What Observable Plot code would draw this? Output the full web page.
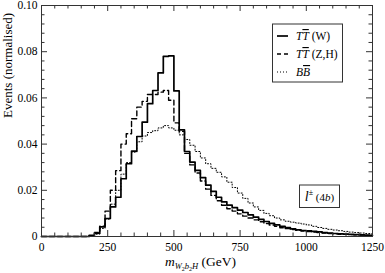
<!DOCTYPE html>
<html><head><meta charset="utf-8">
<script src="https://cdn.jsdelivr.net/npm/d3@7"></script>
<script src="https://cdn.jsdelivr.net/npm/@observablehq/plot@0.6"></script>
<style>
body{margin:0;background:#fff;}
#chart{width:385px;height:273px;}
svg{font-family:"Liberation Serif","DejaVu Serif",serif;}
</style></head><body><div id="chart"></div>
<script>
// bin lower edges (GeV), 20 GeV bins
const binLow = [160,180,200,220,240,260,280,300,320,340,360,380,400,420,440,460,480,500,520,540,
  560,580,600,620,640,660,680,700,720,740,760,780,800,820,840,860,880,900,920,940,
  960,980,1000,1020,1040,1060,1080,1100,1120,1140,1160,1180,1200,1220,1240];
const ttW = [0,0.0005,0.0014,0.0042,0.0078,0.0128,0.0170,0.0250,0.0315,0.0370,
  0.0433,0.0495,0.0575,0.0632,0.0708,0.0780,0.0782,0.0630,0.0462,0.0368,
  0.0322,0.0286,0.0255,0.0222,0.0195,0.0170,0.0150,0.0136,0.0125,0.0114,
  0.0104,0.0094,0.0084,0.0074,0.0065,0.0057,0.0050,0.0044,0.0038,0.0033,
  0.0029,0.0026,0.0024,0.0022,0.0020,0.0017,0.0015,0.0013,0.0011,0.0010,
  0.0009,0.0008,0.0007,0.0006,0.0005];
const ttZH = [0,0.0004,0.0018,0.0045,0.0110,0.0200,0.0285,0.0400,0.0445,0.0510,
  0.0560,0.0585,0.0615,0.0615,0.0625,0.0632,0.0590,0.0492,0.0455,0.0360,
  0.0310,0.0275,0.0240,0.0205,0.0178,0.0155,0.0135,0.0120,0.0110,0.0098,
  0.0088,0.0080,0.0072,0.0064,0.0056,0.0050,0.0044,0.0038,0.0034,0.0030,
  0.0027,0.0024,0.0021,0.0019,0.0017,0.0015,0.0013,0.0012,0.0010,0.0009,
  0.0008,0.0007,0.0006,0.0005,0.0004];
const bbBar = [0,0.0003,0.0010,0.0035,0.0075,0.0140,0.0200,0.0270,0.0320,0.0365,
  0.0410,0.0435,0.0450,0.0458,0.0470,0.0480,0.0470,0.0460,0.0440,0.0420,
  0.0395,0.0368,0.0340,0.0315,0.0295,0.0278,0.0258,0.0235,0.0212,0.0188,
  0.0165,0.0145,0.0128,0.0113,0.0100,0.0090,0.0080,0.0072,0.0066,0.0062,
  0.0058,0.0054,0.0050,0.0044,0.0039,0.0035,0.0031,0.0028,0.0025,0.0022,
  0.0019,0.0017,0.0015,0.0013,0.0011];
const xTicks = [0,250,500,750,1000,1250];
const xMinor = [50,100,150,200,300,350,400,450,550,600,650,700,800,850,900,950,1050,1100,1150,1200];
const yTicks = [0,0.02,0.04,0.06,0.08,0.10];
const yMinor = [0.004,0.008,0.012,0.016,0.024,0.028,0.032,0.036,0.044,0.048,0.052,0.056,0.064,0.068,0.072,0.076,0.084,0.088,0.092,0.096];
const xDomain = [0,1250];
const yDomain = [0,0.10];
const yTitle = "Events (normalised)";

function steps(vals){
  const pts=[{m:xDomain[0],v:0}];
  binLow.forEach((b,i)=>pts.push({m:b,v:vals[i]}));
  pts.push({m:xDomain[1],v:vals[vals.length-1]});
  return pts;
}

const W=385,H=273,mt=5,mr=13,mb=37,ml=41;
const fh = H-mt-mb, fw = W-ml-mr;
const major=6, minor=3.5;

const plot = Plot.plot({
  width:W,height:H,marginTop:mt,marginRight:mr,marginBottom:mb,marginLeft:ml,
  x:{domain:xDomain}, y:{domain:yDomain},
  style:{fontFamily:'"Liberation Serif", serif',fontSize:"11.5px",background:"white",color:"black"},
  marks:[
    Plot.line(steps(bbBar),{x:"m",y:"v",curve:"step-after",stroke:"black",strokeWidth:1,strokeDasharray:"1,2"}),
    Plot.line(steps(ttZH),{x:"m",y:"v",curve:"step-after",stroke:"black",strokeWidth:1.4,strokeDasharray:"5,3"}),
    Plot.line(steps(ttW),{x:"m",y:"v",curve:"step-after",stroke:"black",strokeWidth:1.7}),
    Plot.frame({stroke:"#333",strokeWidth:1}),
    Plot.tickX(xTicks,{x:d=>d,insetTop:fh-major,stroke:"#333"}),
    Plot.tickX(xTicks,{x:d=>d,insetBottom:fh-major,stroke:"#333"}),
    Plot.tickX(xMinor,{x:d=>d,insetTop:fh-minor,stroke:"#333"}),
    Plot.tickX(xMinor,{x:d=>d,insetBottom:fh-minor,stroke:"#333"}),
    Plot.tickY(yTicks,{y:d=>d,insetRight:fw-major,stroke:"#333"}),
    Plot.tickY(yTicks,{y:d=>d,insetLeft:fw-major,stroke:"#333"}),
    Plot.tickY(yMinor,{y:d=>d,insetRight:fw-minor,stroke:"#333"}),
    Plot.tickY(yMinor,{y:d=>d,insetLeft:fw-minor,stroke:"#333"}),
    Plot.axisX({ticks:xTicks,tickSize:0,tickPadding:6,tickFormat:d=>String(d),label:null}),
    Plot.axisY({ticks:yTicks,tickSize:0,tickPadding:4,tickFormat:d=>d===0?"0":d.toFixed(2),label:null}),
    Plot.text([yTitle],{frameAnchor:"left",rotate:-90,dx:-34,dy:-3,fontSize:13})
  ]
});
document.getElementById("chart").appendChild(plot);
const svg = d3.select(plot);

// x-axis title with subscripts
const xt = svg.append("text").attr("x",165).attr("y",266).attr("font-size",13.5)
  .attr("text-anchor","start").attr("fill","black");
xt.append("tspan").attr("font-style","italic").text("m");
xt.append("tspan").attr("font-style","italic").attr("font-size",8.5).attr("dy",3).text("W");
xt.append("tspan").attr("font-size",6).attr("dy",1.5).text("2");
xt.append("tspan").attr("font-style","italic").attr("font-size",8.5).attr("dy",-1.5).text("b");
xt.append("tspan").attr("font-size",6).attr("dy",1.5).text("2");
xt.append("tspan").attr("font-style","italic").attr("font-size",8.5).attr("dy",-1.5).text("H");
xt.append("tspan").attr("font-size",13.5).attr("dy",-3).text(" (GeV)");

// legend
const lg = svg.append("g").attr("font-size",11.5);
lg.append("rect").attr("x",272.5).attr("y",24).attr("width",70).attr("height",58)
  .attr("fill","white").attr("stroke","#333");
const rows = [
  {y:36, dash:null, w:1.7, name:"TT", extra:" (W)"},
  {y:54, dash:"4,3", w:1.4, name:"TT", extra:" (Z,H)"},
  {y:72, dash:"1,2", w:1, name:"BB", extra:""}
];
rows.forEach(r=>{
  lg.append("line").attr("x1",277).attr("x2",288).attr("y1",r.y).attr("y2",r.y)
    .attr("stroke","black").attr("stroke-width",r.w).attr("stroke-dasharray",r.dash);
  const t = lg.append("text").attr("x",296).attr("y",r.y+4).attr("text-anchor","start").attr("fill","black");
  t.append("tspan").attr("font-style","italic").text(r.name[0]);
  t.append("tspan").attr("font-style","italic").attr("text-decoration","overline").text(r.name[1]);
  if(r.extra) t.append("tspan").text(r.extra);
});

// channel annotation
const an = svg.append("g");
an.append("rect").attr("x",299.5).attr("y",185).attr("width",40).attr("height",22.5)
  .attr("fill","white").attr("stroke","#333");
const at = an.append("text").attr("x",319.5).attr("y",201).attr("text-anchor","middle").attr("font-size",12).attr("fill","black");
at.append("tspan").attr("font-style","italic").attr("font-size",14).text("l");
at.append("tspan").attr("font-size",8).attr("dy",-6).text("±");
at.append("tspan").attr("dy",6).attr("font-size",11).text(" (4");
at.append("tspan").attr("font-style","italic").attr("font-size",11).text("b");
at.append("tspan").attr("font-size",11).text(")");
</script></body></html>
